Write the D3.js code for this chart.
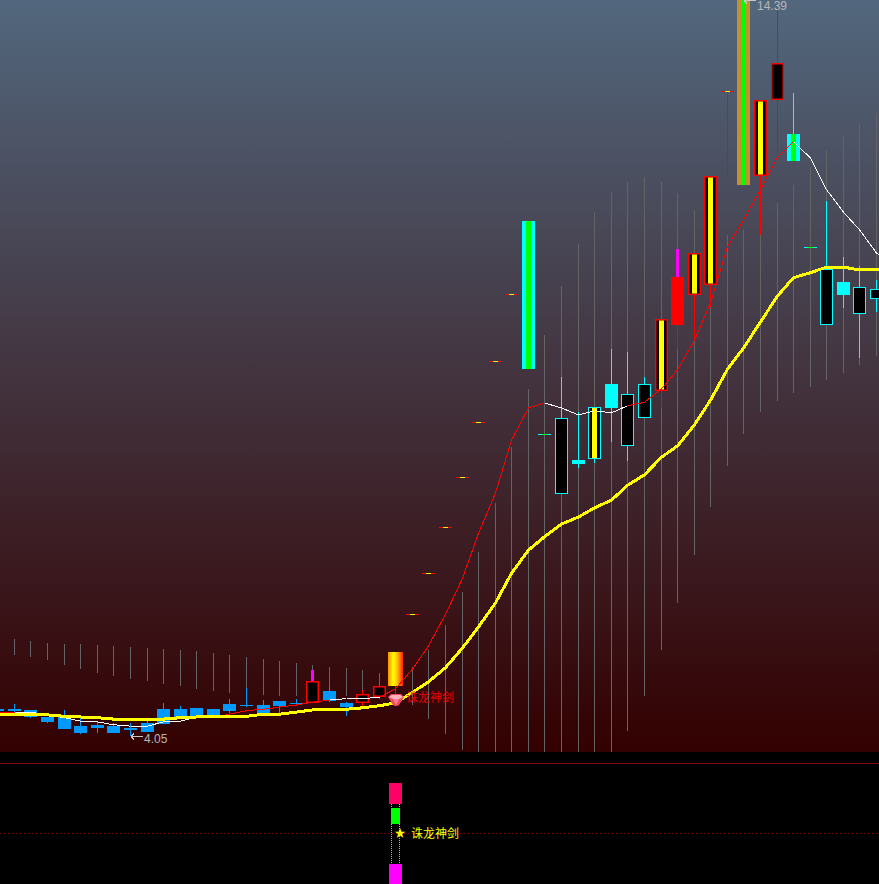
<!DOCTYPE html>
<html>
<head>
<meta charset="utf-8">
<script src="https://cdn.jsdelivr.net/npm/d3@7/dist/d3.min.js"></script>
<style>
html,body{margin:0;padding:0;background:#000;overflow:hidden}
svg{display:block}
</style>
</head>
<body>
<svg id="chart" width="879" height="884"></svg>
<script>
// index of each session, from the partial bar at the left edge to the last one
const sessions = d3.range(-1, 53);

// price data, one entry per session (-1 .. 52)
const bodyHigh = [4.43,4.43,4.42,4.32,4.32,4.19,4.21,4.19,4.16,4.23,4.43,4.43,4.45,4.43,4.50,4.49,4.49,4.55,4.52,4.83,4.69,4.52,4.65,4.76,5.24,5.78,6.36,7.02,7.73,8.51,9.38,10.33,11.37,8.34,8.57,7.97,8.72,9.05,8.91,9.05,9.97,10.57,10.91,12.00,13.21,14.60,13.08,13.61,12.60,11.00,10.68,10.50,10.43,10.40];
const bodyLow  = [4.41,4.41,4.32,4.25,4.15,4.09,4.16,4.09,4.14,4.11,4.22,4.32,4.33,4.32,4.41,4.48,4.38,4.48,4.50,4.52,4.55,4.46,4.52,4.60,4.76,5.78,6.36,7.02,7.73,8.51,9.38,10.33,9.26,8.34,7.49,7.91,7.98,8.71,8.17,8.57,8.95,9.89,10.31,10.46,13.21,11.88,12.00,13.08,12.22,11.00,9.89,10.31,10.04,10.26];
const highs    = [4.43,4.50,4.42,4.32,4.42,4.32,4.25,4.23,4.23,4.26,4.52,4.48,4.45,4.43,4.58,4.73,4.56,4.55,4.58,4.99,4.75,4.53,4.70,4.76,5.24,5.78,6.36,7.02,7.73,8.51,9.38,10.33,11.37,8.34,9.15,8.65,8.72,9.55,9.50,9.15,9.97,10.97,10.91,12.00,13.21,14.60,13.08,14.39,13.18,11.00,11.65,10.85,10.73,10.53];
const lows     = [4.41,4.39,4.31,4.23,4.15,4.08,4.09,4.09,4.05,4.11,4.22,4.32,4.33,4.32,4.38,4.46,4.38,4.38,4.49,4.52,4.53,4.33,4.46,4.58,4.65,5.78,6.36,7.02,7.73,8.51,9.38,10.33,9.26,8.34,7.49,7.86,7.93,8.23,7.96,8.57,8.71,9.55,9.67,10.14,11.99,11.88,11.17,12.27,12.22,11.00,9.89,10.13,9.42,10.07];

// bar kinds, one per session
const kinds = ["blue","blue","blue","blue","blue","blue","blue","blue","blue","blue","blue","blue","blue","blue","blue","blue","blue","blue","blue","hollowRed","blue","blue","hollowRed","hollowRed","flame",
 "dashRed","dashRed","dashRed","dashRed","dashRed","dashRed","dashRed","pillarCyan","dashCyan","hollowCyan","solidCyan","stripeCyan","solidCyan","hollowCyan","hollowCyan","stripeRed","solidRed","stripeRed","stripeRed","dashRed","pillarGold","stripeRed","hollowRed","pillarCyan","dashCyan","hollowCyan","solidCyan","hollowCyan","hollowCyan"];

// sessions whose upper shadow is drawn in magenta
const magentaWicks = [18, 40];

// range band, one entry per session 0 .. 52
const bandTop = [5.43,5.40,5.37,5.36,5.36,5.34,5.33,5.31,5.30,5.29,5.27,5.26,5.23,5.20,5.17,5.14,5.12,5.09,5.06,5.03,5.02,4.99,4.94,5.24,5.03,5.27,5.63,6.10,6.66,7.36,8.15,8.98,9.75,10.44,11.04,11.49,11.78,11.92,11.99,11.92,11.76,11.52,11.31,11.17,11.24,11.41,11.62,11.88,12.13,12.37,12.57,12.76,12.90];
const bandBottom = [5.20,5.17,5.13,5.06,5.00,4.94,4.90,4.86,4.83,4.79,4.76,4.72,4.69,4.66,4.73,4.63,4.62,4.62,4.99,4.75,4.62,4.70,4.76,4.76,4.49,4.29,4.08,3.85,3.82,3.82,3.82,3.82,3.82,3.82,3.82,3.82,3.82,4.12,4.62,5.27,5.94,6.62,7.30,7.89,8.34,8.65,8.81,8.92,9.01,9.11,9.21,9.32,9.45];

// moving averages, one entry per session -1 .. 53
const fastAvg = [4.38,4.39,4.39,4.35,4.31,4.26,4.25,4.21,4.19,4.19,4.25,4.26,4.32,4.32,4.36,4.41,4.43,4.46,4.49,4.53,4.56,4.58,4.58,4.60,4.72,5.00,5.33,5.78,6.29,6.93,7.50,8.25,8.71,8.78,8.71,8.61,8.67,8.64,8.74,8.79,8.98,9.25,9.67,10.20,11.00,11.38,11.81,12.27,12.49,12.26,11.81,11.49,11.24,10.91,10.74];
const slowAvg = [4.35,4.36,4.36,4.35,4.33,4.32,4.31,4.29,4.28,4.28,4.29,4.31,4.32,4.32,4.33,4.33,4.36,4.36,4.39,4.42,4.43,4.43,4.45,4.48,4.52,4.67,4.82,5.02,5.30,5.60,5.94,6.36,6.69,6.88,7.06,7.16,7.29,7.40,7.61,7.76,8.01,8.17,8.47,8.82,9.26,9.56,9.93,10.30,10.56,10.63,10.71,10.71,10.67,10.67,10.67];

// stretches of the fast average drawn in white (falling phases)
const whiteStretches = [[0,12],[19,22],[32,37],[47,53]];

// price annotations
const annotationSessions = [44, 7];
const annotationPrices = [14.50, 4.05];
const annotationLabels = ["14.39", "4.05"];

// signal name and lower indicator panel
const signalName = "诛龙神剑";
const signalSession = 23;
const indicatorLow  = [0, 50, 66.7];
const indicatorHigh = [16.7, 63.3, 84.2];
const indicatorColors = ["#ff00ff", "#00ff00", "#ff0066"];
const indicatorWidths = [13, 9, 13];
const indicatorMid = 42.5;
const indicatorLinkLow = 16.7, indicatorLinkHigh = 66.7;

const svg = d3.select("#chart");
const W = 879, PANEL_H = 752;

const xScale = d3.scaleLinear().domain([0, 52]).range([14.4, 876.56]);
const yScale = d3.scaleLinear().domain([3.8225, 14.504]).range([PANEL_H, 0]);
const yInd = d3.scaleLinear().domain([0, 100]).range([884, 764]);
const X = k => Math.floor(xScale(k));
const Y = p => Math.round(yScale(p));

const COLORS = {blue:"#0099ff", red:"#ff0000", cyan:"#00ffff", yellow:"#ffff00", green:"#00ff00", gold:"#c69030", band:"#646464"};

const defs = svg.append("defs");
const bg = defs.append("linearGradient").attr("id","bg").attr("x1",0).attr("x2",0).attr("y1",0).attr("y2",1);
bg.append("stop").attr("offset",0).attr("stop-color","#52677d");
bg.append("stop").attr("offset",1).attr("stop-color","#330000");
const flame = defs.append("linearGradient").attr("id","flame").attr("x1",0).attr("x2",1).attr("y1",0).attr("y2",0);
[[0,"#ff9000"],[0.2,"#ffcc00"],[0.33,"#ffff00"],[0.5,"#ffe000"],[0.7,"#ffa000"],[1,"#ff2000"]].forEach(s=>flame.append("stop").attr("offset",s[0]).attr("stop-color",s[1]));
defs.append("clipPath").attr("id","panel").append("rect").attr("width",W).attr("height",PANEL_H);

svg.append("rect").attr("width",W).attr("height",884).attr("fill","#000");
svg.append("rect").attr("width",W).attr("height",PANEL_H).attr("fill","url(#bg)");

const plot = svg.append("g").attr("clip-path","url(#panel)").attr("shape-rendering","crispEdges");

// range band
plot.append("g").selectAll("rect").data(d3.range(0,53)).join("rect")
  .attr("x", k=>X(k)).attr("width",1)
  .attr("y", k=>Y(bandTop[k])).attr("height", k=>Math.max(0,Y(bandBottom[k])-Y(bandTop[k])))
  .attr("fill", COLORS.band);

// candles
const wickColor = kind => kind==="blue" ? COLORS.blue : /Cyan/.test(kind) ? COLORS.cyan : COLORS.red;
const candles = plot.append("g");
sessions.forEach((k,i)=>{
  const kind = kinds[i], x = X(k);
  const top = Y(bodyHigh[i]), bot = Y(bodyLow[i]);
  const g = candles.append("g");
  const hi = Y(highs[i]), lo = Y(lows[i]);
  if (lo>hi) g.append("rect").attr("x",x).attr("width",1).attr("y",hi).attr("height",lo-hi).attr("fill",wickColor(kind));
  if (magentaWicks.includes(k)) g.append("rect").attr("x",x-1).attr("width",3).attr("y",hi).attr("height",top-hi).attr("fill","#ff00ff");
  const left = x-6, h = Math.max(1,bot-top);
  if (kind==="blue"||kind==="solidCyan"||kind==="solidRed") {
    g.append("rect").attr("x",left).attr("width",13).attr("y",top).attr("height",h)
      .attr("fill",kind==="blue"?COLORS.blue:kind==="solidCyan"?COLORS.cyan:COLORS.red);
  } else if (/^hollow|^stripe/.test(kind)) {
    const isCyan = /Cyan/.test(kind), inset = isCyan ? 1 : 1.5;
    g.append("rect").attr("x",left).attr("width",13).attr("y",top).attr("height",h).attr("fill",isCyan?COLORS.cyan:COLORS.red);
    g.append("rect").attr("shape-rendering","auto").attr("x",left+inset).attr("width",13-2*inset).attr("y",top+inset).attr("height",Math.max(0,h-2*inset)).attr("fill","#000");
    if (/^stripe/.test(kind)) g.append("rect").attr("shape-rendering","auto").attr("x",x-2).attr("width",5).attr("y",top+inset).attr("height",Math.max(0,h-2*inset)).attr("fill",COLORS.yellow);
  } else if (/^pillar/.test(kind)) {
    g.append("rect").attr("x",left).attr("width",13).attr("y",top).attr("height",h).attr("fill",kind==="pillarGold"?COLORS.gold:COLORS.cyan);
    g.append("rect").attr("x",x-2).attr("width",5).attr("y",top).attr("height",h).attr("fill",COLORS.green);
  } else if (kind==="flame") {
    g.append("rect").attr("x",x-7).attr("width",15).attr("y",top).attr("height",h).attr("fill","url(#flame)");
  } else if (/^dash/.test(kind)) {
    const red = kind==="dashRed";
    g.append("rect").attr("x",left).attr("width",13).attr("y",top).attr("height",1).attr("fill",red?COLORS.red:COLORS.cyan);
    g.append("rect").attr("x",x-2).attr("width",5).attr("y",top).attr("height",1).attr("fill",red?COLORS.yellow:COLORS.green);
  }
});

// averages
const line = d3.line().x(d=>X(d[0])+0.5).y(d=>yScale(d[1]));
const fastPts = sessions.concat([53]).map((k,i)=>[k,fastAvg[i]]);
const isWhite = k => whiteStretches.some(r=>k>=r[0]&&k<r[1]);
for (let i=0;i<fastPts.length-1;i++){
  plot.append("path").attr("d",line([fastPts[i],fastPts[i+1]])).attr("fill","none")
    .attr("stroke", isWhite(fastPts[i][0])?"#ffffff":COLORS.red).attr("stroke-width",1);
}
plot.append("path").attr("d",line(sessions.concat([53]).map((k,i)=>[k,slowAvg[i]])))
  .attr("fill","none").attr("stroke",COLORS.yellow).attr("stroke-width",3);

// signal gem and name
const gx = X(signalSession)+1, gy = Y(lows[signalSession+1])+6;
const gem = svg.append("g").attr("transform",`translate(${gx},${gy})`);
gem.append("path").attr("d","M-8,-3 L-5,-6 L5,-6 L8,-3 L3,5 L1,6 L-1,6 L-3,5 Z").attr("fill","#f0485f");
gem.append("path").attr("d","M-7,-3 L-4,-5 L4,-5 L7,-3 L3,-1 L-3,-1 Z").attr("fill","#ffb4bc");
gem.append("path").attr("d","M-3,-1 L3,-1 L0,5 Z").attr("fill","#ff8090");
svg.append("text").attr("x",gx+10).attr("y",gy-1).attr("dominant-baseline","middle")
  .attr("font-family","'Noto Sans CJK SC'").attr("font-size",12).attr("fill","#e80000").text(signalName);

// annotations
annotationSessions.forEach((k,i)=>{
  const ax = X(k)+1, ay = Y(annotationPrices[i]);
  const a = svg.append("g").attr("stroke","#c8c8c8").attr("fill","none").attr("shape-rendering","crispEdges");
  a.append("path").attr("d",`M${ax},${ay+.5} H${ax+12} M${ax},${ay+.5} L${ax+3},${ay-2.5} M${ax},${ay+.5} L${ax+3},${ay+3.5}`);
  svg.append("text").attr("x",ax+13).attr("y",i===0?10:743).attr("font-family","'Liberation Sans'").attr("font-size",12)
    .attr("fill","#b8b8b8").text(annotationLabels[i]);
});

// lower panel
const lower = svg.append("g").attr("shape-rendering","crispEdges");
lower.append("rect").attr("x",0).attr("y",763).attr("width",W).attr("height",1).attr("fill","#7a0808");
lower.append("line").attr("x1",0).attr("x2",W).attr("y1",Math.round(yInd(indicatorMid))+.5).attr("y2",Math.round(yInd(indicatorMid))+.5)
  .attr("stroke","#8b0000").attr("stroke-dasharray","1 3");
[-4,4].forEach(dx=>lower.append("line").attr("x1",X(signalSession)+dx+.5).attr("x2",X(signalSession)+dx+.5)
  .attr("y1",yInd(indicatorLinkHigh)).attr("y2",yInd(indicatorLinkLow)).attr("stroke","#e8a0a0").attr("stroke-dasharray","1 1"));
indicatorLow.forEach((v,i)=>{
  const w = indicatorWidths[i], t = Math.round(yInd(indicatorHigh[i])), b = Math.round(yInd(v));
  lower.append("rect").attr("x",X(signalSession)-(w-1)/2).attr("width",w).attr("y",t).attr("height",b-t).attr("fill",indicatorColors[i]);
});
svg.append("text").attr("x",400).attr("y",yInd(indicatorMid)+1).attr("text-anchor","middle").attr("dominant-baseline","middle")
  .attr("font-family","'Noto Sans CJK SC'").attr("font-size",11).attr("fill",COLORS.yellow).text("★");
svg.append("text").attr("x",411).attr("y",yInd(indicatorMid)+1.5).attr("dominant-baseline","middle")
  .attr("font-family","'Noto Sans CJK SC'").attr("font-size",12).attr("fill",COLORS.yellow).text(signalName);
</script>
</body>
</html>
